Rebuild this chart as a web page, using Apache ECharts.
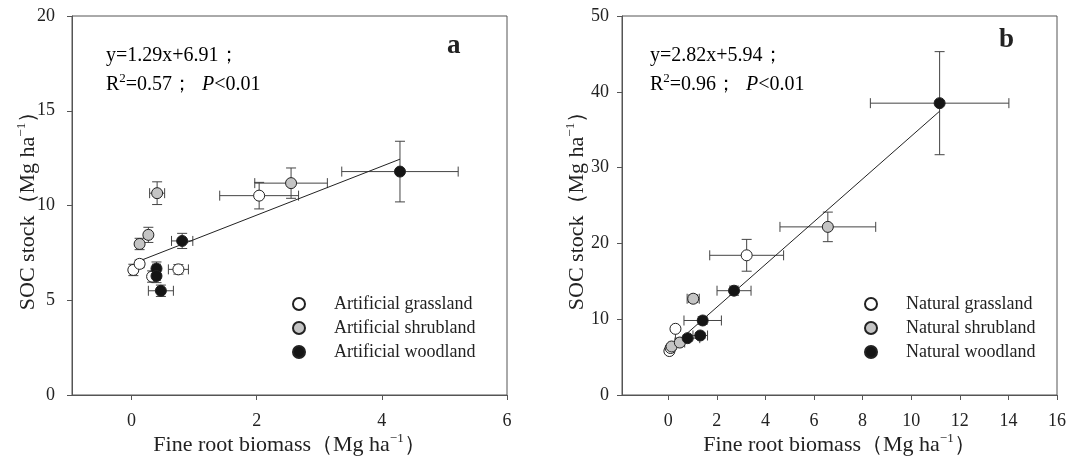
<!DOCTYPE html>
<html><head><meta charset="utf-8">
<script src="https://cdn.jsdelivr.net/npm/echarts@6/dist/echarts.min.js"></script>
<style>html,body{margin:0;padding:0;background:#fff}#c{width:1068px;height:457px}</style>
</head><body><div id="c"></div>
<script>
// ---- Data: [fine root biomass, SOC stock, x error, y error] ----
const artificialGrassland = [[0.03,6.60,0.05,0.30],[0.13,6.92,0.05,0.20],[0.33,6.25,0.05,0.30],[0.75,6.63,0.16,0.25],[2.04,10.52,0.63,0.70]];
const artificialShrubland = [[0.13,7.97,0.04,0.30],[0.27,8.45,0.05,0.40],[0.41,10.65,0.12,0.60],[2.55,11.18,0.58,0.80]];
const artificialWoodland  = [[0.40,6.67,0.06,0.35],[0.40,6.28,0.06,0.35],[0.47,5.50,0.20,0.30],[0.81,8.13,0.17,0.40],[4.29,11.79,0.93,1.60]];
const naturalGrassland = [[0.05,5.80,0.10,0.30],[0.10,6.20,0.10,0.30],[0.30,8.73,0.10,0.30],[3.23,18.43,1.52,2.10]];
const naturalShrubland = [[0.14,6.40,0.10,0.30],[0.48,6.92,0.20,0.40],[1.03,12.70,0.25,0.50],[6.57,22.18,1.97,1.95]];
const naturalWoodland  = [[0.80,7.50,0.50,0.40],[1.32,7.85,0.30,0.40],[1.42,9.83,0.77,0.50],[2.71,13.76,0.70,0.60],[11.17,38.50,2.85,6.80]];
// regression lines: slope, intercept, x range
const fitA = {slope:1.29, intercept:6.91, x0:0.13, x1:4.29};
const fitB = {slope:2.82, intercept:5.94, x0:0.0, x1:11.17};
const xTicksA = [0,2,4,6];
const xTicksB = [0,2,4,6,8,10,12,14,16];
const namesA = ['Artificial grassland','Artificial shrubland','Artificial woodland'];
const namesB = ['Natural grassland','Natural shrubland','Natural woodland'];

const FONT = 'Liberation Serif, Times New Roman, serif';
const AXC = '#555';
const fills = ['#ffffff','#c4c4c4','#151515'];

function errSeries(data, xi, yi){
  return {
    type:'custom', xAxisIndex:xi, yAxisIndex:yi, silent:true, z:2,
    encode:{x:0,y:1},
    data:data,
    renderItem:function(params, api){
      const x=api.value(0), y=api.value(1), xe=api.value(2), ye=api.value(3);
      const c=api.coord([x,y]);
      const top=api.coord([x,y+ye]), bot=api.coord([x,y-ye]);
      const lft=api.coord([x-xe,y]), rgt=api.coord([x+xe,y]);
      const cap=5;
      const st={stroke:'#444',lineWidth:1};
      const ch=[];
      ch.push({type:'line',shape:{x1:c[0],y1:top[1],x2:c[0],y2:bot[1]},style:st});
      ch.push({type:'line',shape:{x1:c[0]-cap,y1:top[1],x2:c[0]+cap,y2:top[1]},style:st});
      ch.push({type:'line',shape:{x1:c[0]-cap,y1:bot[1],x2:c[0]+cap,y2:bot[1]},style:st});
      ch.push({type:'line',shape:{x1:lft[0],y1:c[1],x2:rgt[0],y2:c[1]},style:st});
      ch.push({type:'line',shape:{x1:lft[0],y1:c[1]-cap,x2:lft[0],y2:c[1]+cap},style:st});
      ch.push({type:'line',shape:{x1:rgt[0],y1:c[1]-cap,x2:rgt[0],y2:c[1]+cap},style:st});
      return {type:'group',children:ch};
    }
  };
}
function ptSeries(name, data, xi, yi, k){
  return {
    name:name, type:'scatter', xAxisIndex:xi, yAxisIndex:yi, z:5,
    symbol:'circle', symbolSize:11,
    data:data.map(d=>[d[0],d[1]]),
    itemStyle:{color:fills[k], borderColor:'#222', borderWidth:1, opacity:1}
  };
}
function fitSeries(f, xi, yi){
  return {type:'line', xAxisIndex:xi, yAxisIndex:yi, z:4, silent:true, symbol:'none',
    data:[[f.x0,f.slope*f.x0+f.intercept],[f.x1,f.slope*f.x1+f.intercept]],
    lineStyle:{color:'#222',width:1}};
}
const sup = {fontSize:13, fontFamily:FONT, color:'#222', verticalAlign:'top', lineHeight:26};
const nm = {fontSize:22, fontFamily:FONT, color:'#222', lineHeight:26};
function xAxisDef(gi, min, max, ticks){
  return {type:'value', gridIndex:gi, min:min, max:max,
    name:'{n|Fine root biomass（Mg ha}{sup|−1}{n|）}', nameLocation:'middle', nameGap:37, nameMoveOverlap:false,
    nameTextStyle:{fontSize:22, fontFamily:FONT, color:'#222', rich:{sup:sup, n:nm}},
    axisLine:{show:true, onZero:false, lineStyle:{color:AXC}},
    axisTick:{show:true, length:5, customValues:ticks, lineStyle:{color:AXC}},
    axisLabel:{customValues:ticks, fontSize:18, fontFamily:FONT, color:'#222', margin:17},
    splitLine:{show:false}};
}
function yAxisDef(gi, max, interval, margin, gap){
  return {type:'value', gridIndex:gi, min:0, max:max, interval:interval,
    name:'{n|SOC stock（Mg ha}{sup|−1}{n|）}', nameLocation:'middle', nameGap:gap, nameRotate:90, nameMoveOverlap:false,
    nameTextStyle:{fontSize:22, fontFamily:FONT, color:'#222', rich:{sup:sup, n:nm}},
    axisLine:{show:true, onZero:false, lineStyle:{color:AXC}},
    axisTick:{show:true, length:5, lineStyle:{color:AXC}},
    axisLabel:{fontSize:18, fontFamily:FONT, color:'#222', margin:margin},
    splitLine:{show:false}};
}
function legendDef(names, left){
  return {orient:'vertical', left:left, top:295, padding:0, itemWidth:12, itemHeight:12, itemGap:6,
    icon:'circle', data:names, selectedMode:false,
    textStyle:{fontSize:18, fontFamily:FONT, color:'#222', lineHeight:16, padding:[0,0,0,24]}};
}
function eqText(left, top, eq, r2){
  const r = {n:{fontSize:20,fontFamily:FONT,color:'#222',lineHeight:26},
             s:{fontSize:13,fontFamily:FONT,color:'#222',verticalAlign:'top',lineHeight:26},
             i:{fontSize:20,fontFamily:FONT,color:'#222',fontStyle:'italic',lineHeight:26}};
  return [
    {type:'text', left:left, top:top, style:{text:'{n|' + eq + '}', rich:r}},
    {type:'text', left:left, top:top+26, style:{
      text:'{n|R}{s|2}{n|=' + r2 + '；  }{i|P}{n|<0.01}', rich:r}}
  ];
}
const chart = echarts.init(document.getElementById('c'), null, {renderer:'canvas'});
chart.setOption({
  backgroundColor:'#fff',
  animation:false,
  grid:[
    {left:72, right:561, top:16, bottom:62, show:true, borderColor:AXC, borderWidth:1, backgroundColor:'transparent', outerBoundsMode:'none', containLabel:false},
    {left:622, right:11, top:16, bottom:62, show:true, borderColor:AXC, borderWidth:1, backgroundColor:'transparent', outerBoundsMode:'none', containLabel:false}
  ],
  xAxis:[xAxisDef(0,-0.95,6,xTicksA), xAxisDef(1,-1.9,16,xTicksB)],
  yAxis:[yAxisDef(0,20,5,17,31), yAxisDef(1,50,10,13,32)],
  legend:[legendDef(namesA, 292), legendDef(namesB, 864)],
  series:[
    errSeries(artificialGrassland,0,0), errSeries(artificialShrubland,0,0), errSeries(artificialWoodland,0,0),
    fitSeries(fitA,0,0),
    ptSeries(namesA[0], artificialGrassland,0,0,0), ptSeries(namesA[1], artificialShrubland,0,0,1), ptSeries(namesA[2], artificialWoodland,0,0,2),
    errSeries(naturalGrassland,1,1), errSeries(naturalShrubland,1,1), errSeries(naturalWoodland,1,1),
    fitSeries(fitB,1,1),
    ptSeries(namesB[0], naturalGrassland,1,1,0), ptSeries(namesB[1], naturalShrubland,1,1,1), ptSeries(namesB[2], naturalWoodland,1,1,2)
  ],
  graphic:[].concat(
    eqText(106, 46, 'y=1.29x+6.91；', '0.57'),
    eqText(650, 46, 'y=2.82x+5.94；', '0.96'),
    [{type:'text', left:447, top:33, style:{text:'a', fontSize:27, fontWeight:'bold', fontFamily:FONT, fill:'#222'}},
     {type:'text', left:999, top:27, style:{text:'b', fontSize:27, fontWeight:'bold', fontFamily:FONT, fill:'#222'}}]
  )
});
</script></body></html>
